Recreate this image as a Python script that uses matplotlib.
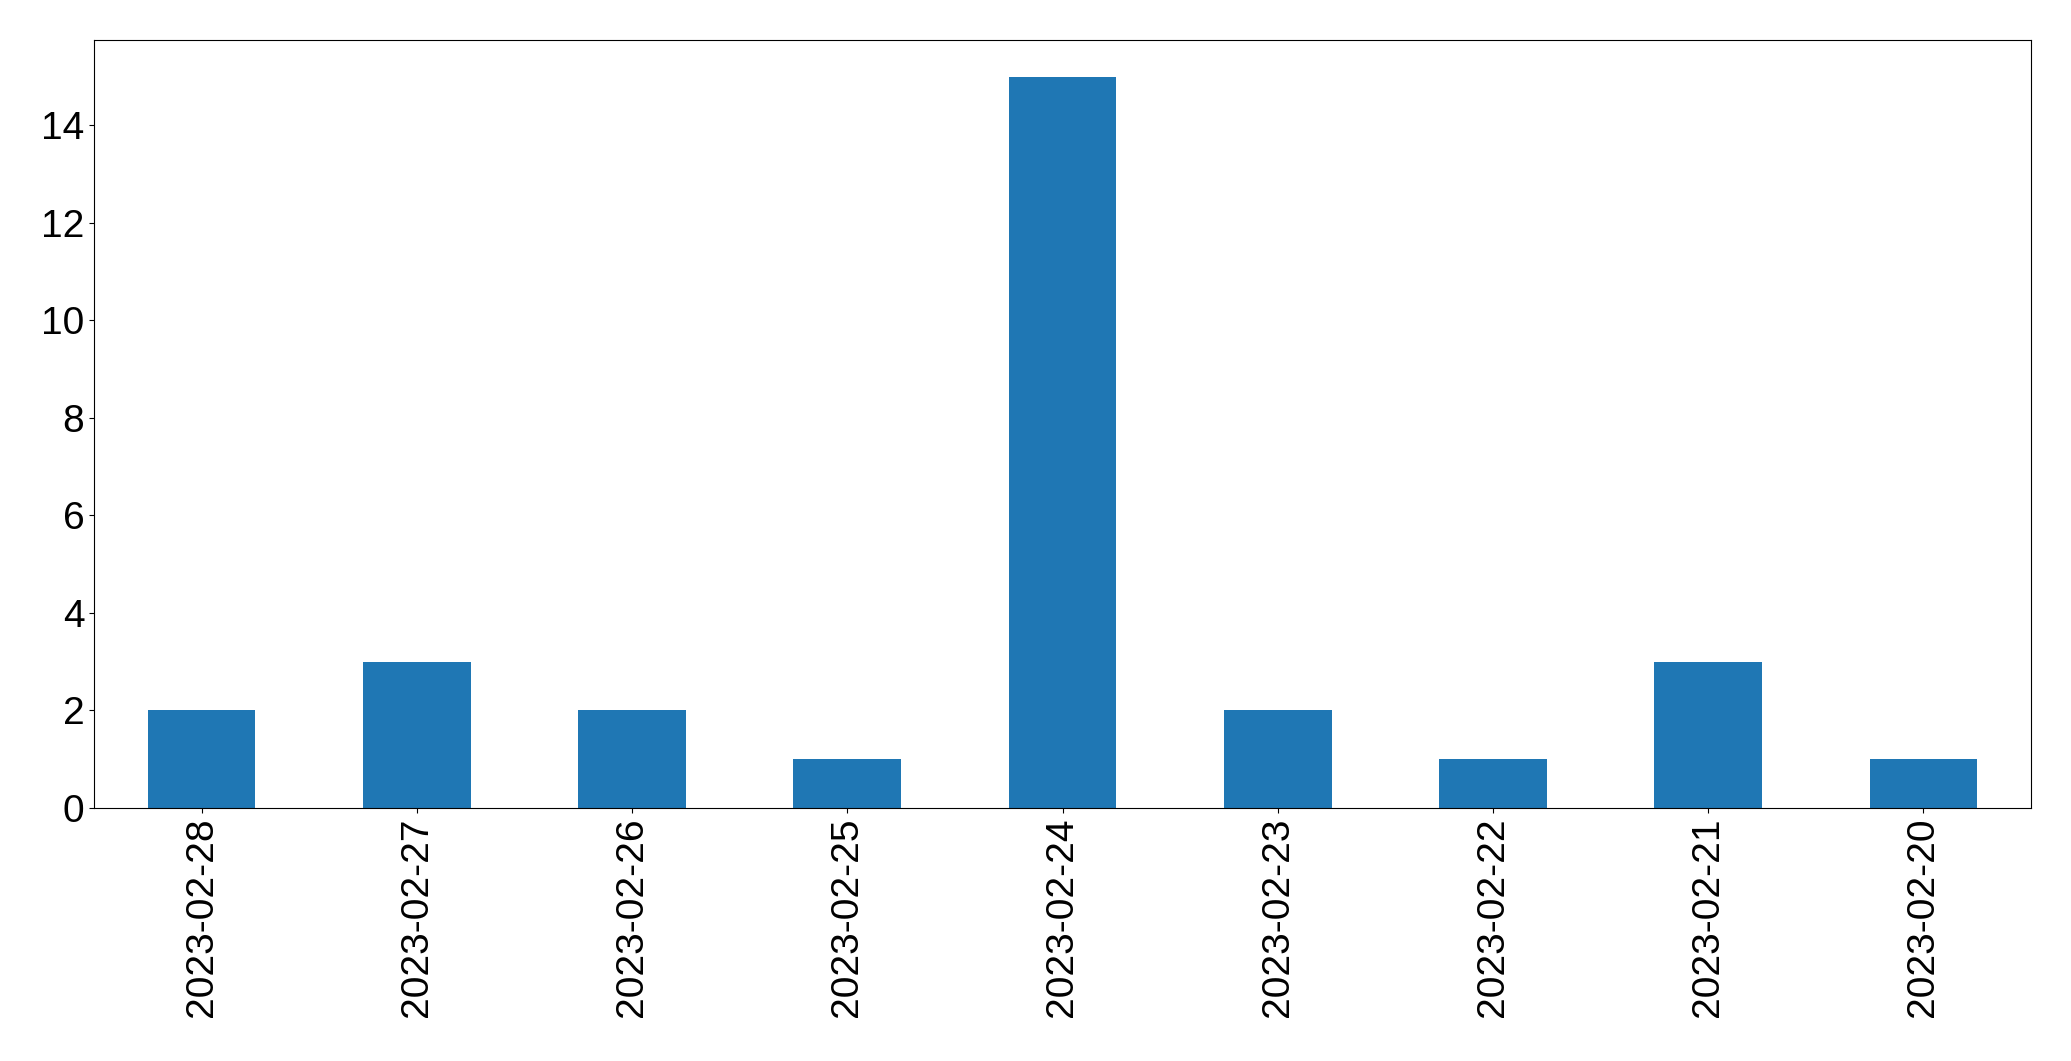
import pandas as pd
import matplotlib
matplotlib.use("Agg")
import matplotlib.pyplot as plt

dates = [
    "2023-02-28", "2023-02-27", "2023-02-26", "2023-02-25", "2023-02-24",
    "2023-02-23", "2023-02-22", "2023-02-21", "2023-02-20",
]
counts = [2, 3, 2, 1, 15, 2, 1, 3, 1]

plt.rcParams.update({"font.size": 28, "font.family": ["Liberation Sans", "DejaVu Sans"]})

s = pd.Series(counts, index=dates)

fig = plt.figure(figsize=(20.71, 10.61), dpi=100)
ax = fig.add_axes([94 / 2071, 1 - 808 / 1061, (2031 - 94) / 2071, (808 - 40) / 1061])
s.plot(kind="bar", ax=ax, color="#1f77b4")
ax.tick_params(axis="both", labelsize=28)
ax.set_xlabel("")

fig.savefig("out.png", dpi=100)
